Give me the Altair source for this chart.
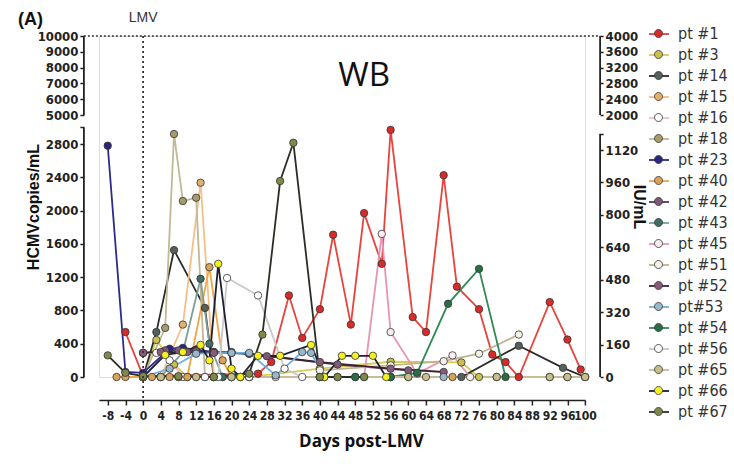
import altair as alt
import pandas as pd

FONT_N = "Liberation Sans Narrow, Arial Narrow, DejaVu Sans Condensed, Liberation Sans, sans-serif"
FONT = "Liberation Sans, Arial, sans-serif"

# ---------------- data (days post-LMV, HCMV copies/mL) ----------------
patients = ["pt #1", "pt #3", "pt #14", "pt #15", "pt #16", "pt #18", "pt #23", "pt #40",
            "pt #42", "pt #43", "pt #45", "pt #51", "pt #52", "pt#53", "pt #54", "pt #56",
            "pt #65", "pt #66", "pt #67"]

pt1_days = [-4, 0, 26, 29, 33, 36, 40, 43, 47, 50, 54, 56, 61, 64, 68, 71, 76, 79, 82, 85, 92, 96, 99]
pt1_vals = [540, 10, 40, 180, 980, 470, 815, 1710, 630, 1970, 1360, 2970, 720, 540, 2425, 1085, 815, 270, 180, 0, 900, 450, 90]
pt3_days = [0, 3, 7, 10, 24, 40, 56, 72, 76]
pt3_vals = [0, 445, 150, 0, 0, 100, 183, 175, 0]
pt14_days = [0, 3, 7, 14, 16, 24, 40, 56, 72, 85, 95, 100]
pt14_vals = [0, 540, 1525, 830, 0, 0, 0, 0, 0, 375, 110, 0]
pt15_days = [4, 9, 13, 16, 20, 24]
pt15_vals = [0, 630, 2335, 0, 0, 0]
pt16_days = [0, 3, 6, 9, 12, 16, 20, 24]
pt16_vals = [290, 290, 200, 0, 0, 0, 0, 0]
pt18_days = [0, 5, 7, 9, 12, 14, 18, 22]
pt18_vals = [0, 590, 2920, 2115, 2155, 0, 0, 0]
pt23_days = [-8, -4, 0, 6, 9, 12, 16, 20, 24]
pt23_vals = [2780, 60, 50, 340, 350, 330, 300, 290, 280]
pt40_days = [-6, -4, 0, 2, 4, 6, 8, 10, 15, 18, 20, 40, 60, 70, 80, 92, 96, 100]
pt40_vals = [0, 0, 0, 0, 0, 0, 0, 0, 1320, 200, 0, 0, 0, 0, 0, 0, 0, 0]
pt42_days = [0, 5, 8, 12, 16, 20, 28, 44, 60]
pt42_vals = [290, 320, 320, 310, 300, 300, 250, 150, 80]
pt43_days = [4, 9, 13, 15, 18, 22]
pt43_vals = [0, 300, 1180, 400, 0, 0]
pt45_days = [20, 30, 40, 50, 54, 56, 62, 70, 74]
pt45_vals = [0, 0, 0, 0, 1720, 540, 40, 260, 0]
pt51_days = [40, 56, 68, 76, 85]
pt51_vals = [80, 140, 190, 280, 510]
pt52_days = [0, 4, 10, 16, 24, 40, 56, 68]
pt52_vals = [290, 300, 300, 290, 280, 180, 100, 60]
pt53_days = [0, 6, 12, 20, 24, 30, 36, 38, 41, 48, 56, 68]
pt53_vals = [0, 100, 280, 290, 290, 20, 300, 290, 0, 0, 0, 0]
pt54_days = [40, 48, 56, 62, 69, 76, 82]
pt54_vals = [0, 0, 0, 50, 880, 1300, 0]
pt56_days = [14, 17, 19, 26, 32, 36, 44]
pt56_vals = [0, 0, 1190, 980, 100, 0, 0]
pt65_days = [0, 4, 8, 12, 16, 20, 40, 60, 64, 80, 92, 96, 100]
pt65_vals = [0, 0, 0, 0, 0, 0, 0, 0, 0, 0, 0, 0, 0]
pt66_days = [0, 5, 9, 13, 15, 17, 20, 22, 26, 31, 38, 41, 45, 48, 52, 55]
pt66_vals = [0, 265, 300, 385, 200, 1360, 100, 0, 255, 255, 385, 0, 255, 255, 255, 0]
pt67_days = [-8, -4, 0, 8, 16, 24, 27, 31, 34, 40, 44, 50]
pt67_vals = [260, 50, 10, 10, 0, 40, 510, 2355, 2815, 0, 0, 0]

series_days = [pt1_days, pt3_days, pt14_days, pt15_days, pt16_days, pt18_days, pt23_days, pt40_days,
               pt42_days, pt43_days, pt45_days, pt51_days, pt52_days, pt53_days, pt54_days, pt56_days,
               pt65_days, pt66_days, pt67_days]
series_vals = [pt1_vals, pt3_vals, pt14_vals, pt15_vals, pt16_vals, pt18_vals, pt23_vals, pt40_vals,
               pt42_vals, pt43_vals, pt45_vals, pt51_vals, pt52_vals, pt53_vals, pt54_vals, pt56_vals,
               pt65_vals, pt66_vals, pt67_vals]

x_ticks = list(range(-8, 101, 4))
left_ticks_low = [0, 400, 800, 1200, 1600, 2000, 2400, 2800]
left_ticks_high = [5000, 6000, 7000, 8000, 9000, 10000]
right_ticks_low = [0, 160, 320, 480, 640, 800, 960, 1120]
right_ticks_high = [2000, 2400, 2800, 3200, 3600, 4000]

# ---------------- styles ----------------
line_colors = ["#e8433c", "#d8cc50", "#2b2b2b", "#f6bf86", "#f2bcd3", "#c2b894", "#2d2a8c", "#efa648",
               "#553a5a", "#7d9f9a", "#ea94b4", "#bdb48c", "#3d2233", "#6fb2df", "#2f8a55", "#c9c9c9",
               "#c7bc95", "#1f1f33", "#2a2f26"]
fill_colors = ["#d92a2a", "#c8c050", "#55605a", "#e0b070", "#ffffff", "#a89a6a", "#2a2680", "#d9a45a",
               "#7d5a78", "#3e6e64", "#fbeef3", "#f4f2e6", "#8a5a7a", "#9ab8cc", "#2a6e45", "#ffffff",
               "#c8c08c", "#f5f020", "#7e8a4a"]

rows = []
for name, ds, vs in zip(patients, series_days, series_vals):
    for d, v in zip(ds, vs):
        rows.append({"pt": name, "ptm": name + "*", "day": d, "val": v})
df = pd.DataFrame(rows)
marker_keys = [p + "*" for p in patients]

W, H = 486.2, 341
PAD_L, PAD_T = 98.9, 36
PAD_R = 734 - PAD_L - W
PAD_B = 467 - PAD_T - H


def xs():
    return alt.Scale(domain=[-10, 100], nice=False, zero=False)


def ys():
    return alt.Scale(domain=[0, 3000, 5000, 10000], range=[H, 91.4, 79, 0], nice=False, zero=False)


yscale_r = alt.Scale(domain=[0, 1200, 2000, 4000], range=[H, 97.8, 79, 0], nice=False, zero=False)

x_axis = alt.Axis(values=x_ticks, tickCount=60, labelExpr="datum.value + ''", offset=23,
                  domain=True, domainColor="#222", domainWidth=1.5,
                  tickSize=5, tickColor="#222", tickWidth=1.5, labelFont=FONT_N, labelFontSize=12,
                  labelFontWeight="bold", labelColor="#222", labelPadding=5, labelFlush=False,
                  labelOverlap=False, grid=False, title="Days post-LMV", titleFont="Open Sans",
                  titleFontSize=17, titleFontWeight="bold", titleColor="#111", titlePadding=12,
                  titleX=262)

y_axis = alt.Axis(values=left_ticks_low + [3000] + left_ticks_high, tickCount=60, format="d",
                  labelExpr="datum.value == 3000 ? '' : datum.label",
                  offset=15, domain=False, tickSize=4, tickWidth=1.5, tickColor="#222",
                  labelFont=FONT_N, labelFontSize=13, labelFontWeight="bold", labelColor="#222",
                  labelPadding=2, labelOverlap=False, grid=False, title="HCMVcopies/mL",
                  titleFont=FONT, titleFontSize=16, titleFontWeight="bold", titleColor="#111",
                  titlePadding=-4)

y_axis_r = alt.Axis(values=right_ticks_low + [1200] + right_ticks_high, tickCount=60, format="d",
                    orient="right", labelExpr="datum.value == 1200 ? '' : datum.label",
                    offset=15, domain=False, tickSize=3, tickWidth=1.5, tickColor="#222",
                    labelFont=FONT_N, labelFontSize=13, labelFontWeight="bold", labelColor="#222",
                    labelPadding=2, labelOverlap=False, grid=False, title="IU/mL",
                    titleFont=FONT, titleFontSize=16, titleFontWeight="bold", titleColor="#111",
                    titlePadding=-7)

LINE_SYM = "M-1,0L1,0"
CIRCLE_SYM = "M-0.4,0A0.4,0.4,0,1,1,0.4,0A0.4,0.4,0,1,1,-0.4,0Z"

legend_lines = alt.Legend(title=None, orient="none", legendX=549.1, legendY=-13, symbolType=LINE_SYM,
                          symbolSize=400, symbolStrokeWidth=1.8, labelFont=FONT_N, labelFontSize=16,
                          labelColor="#333", rowPadding=2, labelOffset=8, padding=0, zindex=0)
legend_points = alt.Legend(title=None, orient="none", legendX=549.1, legendY=-13, symbolType=CIRCLE_SYM,
                           symbolSize=400, symbolStrokeWidth=0.8, symbolStrokeColor="#333",
                           labelFont=FONT_N, labelFontSize=16, labelExpr="''",
                           rowPadding=2, labelOffset=8, padding=0, zindex=1)

base = alt.Chart(df)

lines = base.mark_line(strokeWidth=1.8).encode(
    x=alt.X("day:Q", scale=xs(), axis=x_axis),
    y=alt.Y("val:Q", scale=ys(), axis=y_axis),
    color=alt.Color("pt:N", scale=alt.Scale(domain=patients, range=line_colors), legend=legend_lines),
    order=alt.Order("day:Q"),
)

points = base.mark_circle(size=55, stroke="#333", strokeWidth=0.8, opacity=1).encode(
    x=alt.X("day:Q", scale=xs()),
    y=alt.Y("val:Q", scale=ys(), axis=None),
    fill=alt.Fill("ptm:N", scale=alt.Scale(domain=marker_keys, range=fill_colors), legend=legend_points),
)

seg_left = alt.Chart(pd.DataFrame({"y": [0, 5000], "y2": [3000, 10000]})).mark_rule(
    color="#222", strokeWidth=1.8).encode(
    x=alt.value(-15), y=alt.Y("y:Q", scale=ys(), axis=None), y2="y2:Q")

top_line = alt.Chart(pd.DataFrame({"y": [10000]})).mark_rule(
    color="#333", strokeWidth=1.5, strokeDash=[2, 2]).encode(
    x=alt.value(-15), x2=alt.value(W + 15), y=alt.Y("y:Q", scale=ys(), axis=None))

lmv_line = alt.Chart(pd.DataFrame({"day": [0]})).mark_rule(
    color="#333", strokeWidth=1.8, strokeDash=[2, 3]).encode(
    x=alt.X("day:Q", scale=xs()), y=alt.value(0), y2=alt.value(H + 21))

lmv_text = alt.Chart(pd.DataFrame({"day": [0], "t": ["LMV"]})).mark_text(
    font=FONT, fontSize=14, color="#333", baseline="middle").encode(
    x=alt.X("day:Q", scale=xs()), y=alt.value(-18), text="t:N")

wb_text = alt.Chart(pd.DataFrame({"day": [50], "val": [7470], "t": ["WB"]})).mark_text(
    font="Open Sans", fontSize=33, color="#111", baseline="middle").encode(
    x=alt.X("day:Q", scale=xs()), y=alt.Y("val:Q", scale=ys(), axis=None), text="t:N")

a_text = alt.Chart(pd.DataFrame({"t": ["(A)"]})).mark_text(
    font=FONT, fontSize=18, fontWeight="bold", color="#111", align="left", baseline="middle").encode(
    x=alt.value(-81), y=alt.value(-16), text="t:N")

right = alt.Chart(pd.DataFrame({"y": [0, 2000], "y2": [1200, 4000]})).mark_rule(
    color="#222", strokeWidth=1.8).encode(
    x=alt.value(W + 15), y=alt.Y("y:Q", scale=yscale_r, axis=y_axis_r), y2="y2:Q")

chart = alt.layer(lines, points, seg_left, top_line, lmv_line, lmv_text, wb_text, a_text, right
                  ).resolve_scale(y="independent").properties(
    width=W, height=H,
    padding={"left": PAD_L, "top": PAD_T, "right": PAD_R, "bottom": PAD_B},
    autosize=alt.AutoSizeParams(type="none"),
).configure_view(stroke=None).configure(background="white")

chart.save("out.html", embed_options={"renderer": "svg", "actions": False})
